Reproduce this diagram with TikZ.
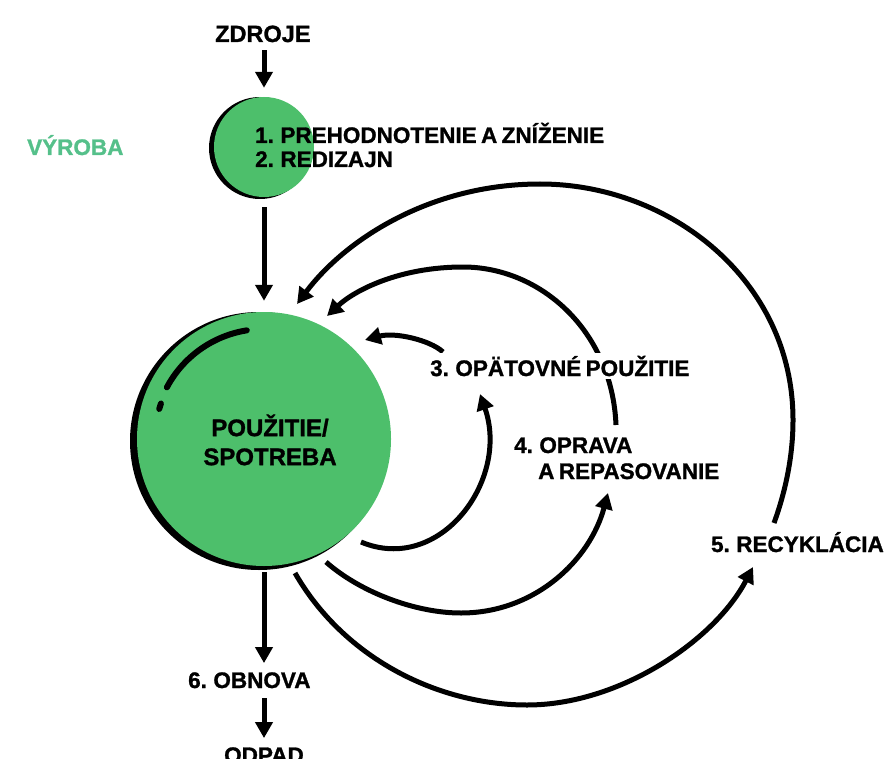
\documentclass[tikz,border=0pt]{standalone}
\usepackage{fontspec}
\setmainfont[WordSpace=0.7,BoldFeatures={FakeBold=1.2}]{Liberation Sans}
\usetikzlibrary{arrows.meta}
\definecolor{zelena}{HTML}{4DBF6B}
\definecolor{zelenatext}{HTML}{55C08A}

\begin{document}
\begin{tikzpicture}[x=1pt,y=-1pt,
	sip/.style={line width=5pt,-{Triangle[length=16pt,width=17pt]}},
	txt/.style={font=\fontsize{22.5}{24}\selectfont\bfseries,inner sep=0pt}]
\useasboundingbox (0,0) rectangle (885,759);
\clip (0,0) rectangle (885,759);

\fill (260,148) circle[radius=51];
\node[circle,fill=zelena,minimum size=100pt,inner sep=0pt] (vyroba) at (264,147) {};
\fill (259,441) circle[radius=129];
\node[circle,fill=zelena,minimum size=254pt,inner sep=0pt] (pouzitie) at (264,439) {};
\draw[line width=6pt,line cap=round] (pouzitie.center) ++(-152:110) arc[start angle=-152,end angle=-99,radius=110];
\draw[line width=6pt,line cap=round] (pouzitie.center) ++(-161:109) arc[start angle=-161,end angle=-164,radius=109];

\node[txt,font=\fontsize{23.5}{24}\selectfont\bfseries,anchor=base west] (zdroje) at (215,42) {ZDROJE};
\node[txt,anchor=base west,text=zelenatext] (vyr) at (27,155) {VÝROBA};
\node[txt,anchor=base west] (k1) at (255,143) {1. PREHODNOTENIE A ZNÍŽENIE};
\node[txt,anchor=base west] (k2) at (255,167) {2. REDIZAJN};
\node[txt,font=\fontsize{24}{29}\selectfont\bfseries,align=center] (spotreba) at (270,440) {POUŽITIE/\\SPOTREBA};
\node[txt,anchor=base west] (obnova) at (188,688) {6. OBNOVA};
\node[txt,anchor=base] (odpad) at (264,763) {ODPAD};

\draw[sip,shorten <=8pt,shorten >=9pt] (zdroje.south -| vyroba) -- (vyroba);
\draw[sip,shorten <=10pt,shorten >=11pt] (vyroba) -- (pouzitie);
\draw[sip,shorten <=6pt,shorten >=9pt] (pouzitie) -- (pouzitie |- obnova.north);
\draw[sip,shorten <=10pt,shorten >=9pt] (pouzitie |- obnova.south) -- (odpad);

\coordinate (l3a) at (361,542);
\coordinate (l3b) at (480,394);
\coordinate (l3c) at (443,352);
\coordinate (l3d) at (365,340);
\coordinate (l4a) at (326,562);
\coordinate (l4m) at (461,613);
\coordinate (l4b) at (608,493);
\coordinate (l4c) at (616,425);
\coordinate (l4n) at (463,267);
\coordinate (l4d) at (327,316);
\coordinate (l5a) at (295,573);
\coordinate (l5m) at (527,705);
\coordinate (l5b) at (753,567);
\coordinate (l5c) at (774,523);
\coordinate (l5r) at (793,420);
\coordinate (l5n) at (540,184);
\coordinate (l5d) at (297,304);

\draw[sip] (l3a) .. controls (440,575) and (510,480) .. (l3b);
\draw[sip] (l3c) .. controls (430,340) and (395,332) .. (l3d);
\draw[sip] (l4a) .. controls (360,592) and (415,613) .. (l4m) .. controls (535,613) and (590,560) .. (l4b);
\draw[sip] (l4c) .. controls (612,330) and (540,267) .. (l4n) .. controls (400,267) and (355,290) .. (l4d);
\draw[sip] (l5a) .. controls (345,660) and (440,705) .. (l5m) .. controls (620,705) and (715,640) .. (l5b);
\draw[sip] (l5c) .. controls (786,490) and (793,455) .. (l5r) .. controls (793,280) and (670,184) .. (l5n) .. controls (430,184) and (345,240) .. (l5d);

\node[txt,anchor=base west,fill=white,inner sep=3pt] (opat) at (427,376) {3. OPÄTOVNÉ POUŽITIE};
\node[txt,anchor=base west] (oprava) at (514,453) {4. OPRAVA};
\node[txt,anchor=base west] (repas) at (538,479) {A REPASOVANIE};
\node[txt,anchor=base east] (recyk) at (884,552) {5. RECYKLÁCIA};
\end{tikzpicture}
\end{document}
